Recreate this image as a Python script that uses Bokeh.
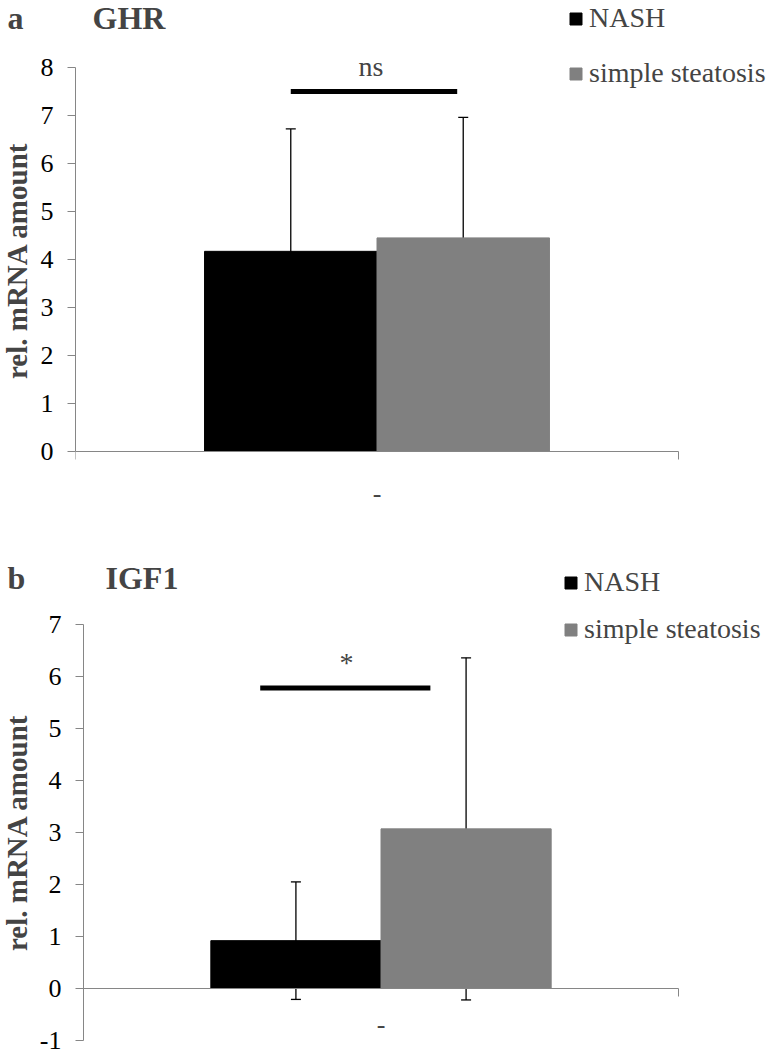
import math
from bokeh.plotting import figure
from bokeh.models import (Range1d, LinearAxis, FixedTicker, Whisker, TeeHead,
                          Label, Legend, LegendItem, ColumnDataSource)
from bokeh.layouts import column, row
from bokeh.embed import file_html
from bokeh.resources import INLINE

# ---------------- data ----------------
groups = ["NASH", "simple steatosis"]
category = ["-"]
genes = ["GHR", "IGF1"]
panel_letters = ["a", "b"]
y_title = "rel. mRNA amount"

ghr_mean = [4.17, 4.45]
ghr_sd = [2.55, 2.51]
igf1_mean = [0.92, 3.07]
igf1_sd = [1.13, 3.29]

ghr_yticks = [0, 1, 2, 3, 4, 5, 6, 7, 8]
igf1_yticks = [-1, 0, 1, 2, 3, 4, 5, 6, 7]

sig_labels = ["ns", "*"]
sig_levels = [7.5, 5.78]

# ---------------- styling / layout ----------------
colors = ["#000000", "#808080"]
AXIS_COLOR = "#868686"
SERIF = "Liberation Serif"
BAR_W = 0.286
LEFT_W = 32
MAIN_W = 740


def side_figure(letter, cfg):
    q = figure(width=LEFT_W, height=cfg["height"], output_backend="svg",
               toolbar_location=None, x_axis_location=None, y_axis_location=None,
               x_range=Range1d(0, 1), y_range=Range1d(0, 1),
               min_border_left=0, min_border_right=0, min_border_top=0,
               min_border_bottom=cfg["bb"])
    q.outline_line_color = None
    q.grid.visible = False
    q.add_layout(Label(x=7, y=cfg["title_y"], x_units="screen", y_units="screen",
                       text=letter, text_font=SERIF, text_font_style="bold",
                       text_font_size="32px", text_baseline="middle"))
    q.add_layout(Label(x=16, y=cfg["ylab_y"], x_units="screen", y_units="screen",
                       text=y_title, angle=math.pi / 2, text_font=SERIF,
                       text_font_style="bold", text_font_size="29px",
                       text_align="center", text_baseline="middle"))
    return q


def make_panel(gene, means, sds, yticks, sig_label, sig_level, cfg):
    frame_w = MAIN_W - cfg["bl"]
    frame_h = cfg["height"] - cfg["bb"]
    ppu = cfg["ppu"]
    x_end = frame_w / cfg["axis_len"]
    y_end = cfg["zero_px"] / ppu
    y_start = y_end - frame_h / ppu
    p = figure(width=MAIN_W, height=cfg["height"], output_backend="svg",
               toolbar_location=None, x_axis_location=None, y_axis_location="left",
               x_range=Range1d(0, x_end), y_range=Range1d(y_start, y_end),
               min_border_left=cfg["bl"], min_border_right=0,
               min_border_top=0, min_border_bottom=cfg["bb"])
    p.outline_line_color = None
    p.grid.visible = False

    # y axis
    ya = p.yaxis[0]
    ya.bounds = (yticks[0], yticks[-1])
    ya.ticker = FixedTicker(ticks=yticks)
    ya.major_label_overrides = {t: str(t) for t in yticks}
    ya.axis_line_color = AXIS_COLOR
    ya.major_tick_line_color = AXIS_COLOR
    ya.major_tick_out = 8
    ya.major_tick_in = 0
    ya.minor_tick_line_color = None
    ya.major_label_text_font = SERIF
    ya.major_label_text_font_size = "26px"
    ya.major_label_text_color = "black"
    ya.major_label_standoff = 14

    # bars
    centre = 0.5
    xs = [centre + (i - 0.5) * BAR_W for i in range(len(groups))]
    src = ColumnDataSource(dict(x=xs, top=means, color=colors, group=groups,
                                upper=[m + s for m, s in zip(means, sds)],
                                lower=[m - s for m, s in zip(means, sds)]))
    r = p.vbar(x="x", top="top", bottom=0, width=BAR_W, color="color",
               line_color="color", source=src)

    # error bars
    w = Whisker(source=src, base="x", upper="upper", lower="lower",
                line_color="black", line_width=1.3,
                upper_head=TeeHead(size=10, line_color="black", line_width=1.3),
                lower_head=TeeHead(size=10, line_color="black", line_width=1.3))
    p.add_layout(w)

    # x axis at y = 0, ticks at both ends of the category
    xa = LinearAxis(ticker=FixedTicker(ticks=[0, 1]), bounds=(0, 1), fixed_location=0,
                    major_label_overrides={0: "", 1: ""},
                    major_tick_in=0, major_tick_out=8,
                    major_label_text_font_size="1px", major_label_standoff=0,
                    axis_line_color=AXIS_COLOR, major_tick_line_color=AXIS_COLOR,
                    minor_tick_line_color=None)
    p.add_layout(xa, "below")
    p.add_layout(Label(x=centre, y=cfg["cat_y"], text=category[0],
                       text_font=SERIF, text_font_size="26px",
                       text_align="center", text_baseline="middle"))

    # significance bar
    p.segment(x0=cfg["sig_x0"], x1=cfg["sig_x1"], y0=sig_level, y1=sig_level,
              line_color="black", line_width=5)
    p.add_layout(Label(x=cfg["sig_tx"], y=sig_level + cfg["sig_dy"], text=sig_label,
                       text_font=SERIF, text_font_size="28px",
                       text_align="center", text_baseline="middle"))

    # gene title
    p.add_layout(Label(x=cfg["gene_x"], y=cfg["title_y"], x_units="screen",
                       y_units="screen", text=gene, text_font=SERIF,
                       text_font_style="bold", text_font_size="32px",
                       text_baseline="middle"))

    # legend
    items = [LegendItem(label=g, renderers=[r], index=i) for i, g in enumerate(groups)]
    leg = Legend(items=items, location=cfg["leg_loc"], orientation="vertical",
                 glyph_width=15, glyph_height=15, label_standoff=6,
                 label_text_font=SERIF, label_text_font_size="28px",
                 label_height=30, spacing=cfg["leg_spacing"],
                 padding=0, margin=0, border_line_color=None,
                 background_fill_alpha=0)
    p.add_layout(leg, "center")
    return p


# panel a: frame spans page y 0..520, value 0 at y=451, 48 px per unit
cfg_a = dict(height=540, bl=43, bb=20, axis_len=603, ppu=48.0, zero_px=451,
             cat_y=-0.88, sig_x0=0.357, sig_x1=0.633, sig_tx=0.49, sig_dy=0.53,
             gene_x=17, title_y=502.5, ylab_y=260,
             leg_loc=(493, 431), leg_spacing=23)
# panel b: frame spans page y 540..1040, value 0 at y=988, 52 px per unit
cfg_b = dict(height=516, bl=51, bb=16, axis_len=595, ppu=52.0, zero_px=448,
             cat_y=-0.7, sig_x0=0.297, sig_x1=0.583, sig_tx=0.442, sig_dy=0.49,
             gene_x=22, title_y=463, ylab_y=208,
             leg_loc=(480, 395), leg_spacing=15)

pa = make_panel(genes[0], ghr_mean, ghr_sd, ghr_yticks, sig_labels[0], sig_levels[0], cfg_a)
pb = make_panel(genes[1], igf1_mean, igf1_sd, igf1_yticks, sig_labels[1], sig_levels[1], cfg_b)
la = side_figure(panel_letters[0], cfg_a)
lb = side_figure(panel_letters[1], cfg_b)

layout = column(row(la, pa, spacing=0), row(lb, pb, spacing=0), spacing=0)
open("out.html", "w").write(file_html(layout, INLINE))
